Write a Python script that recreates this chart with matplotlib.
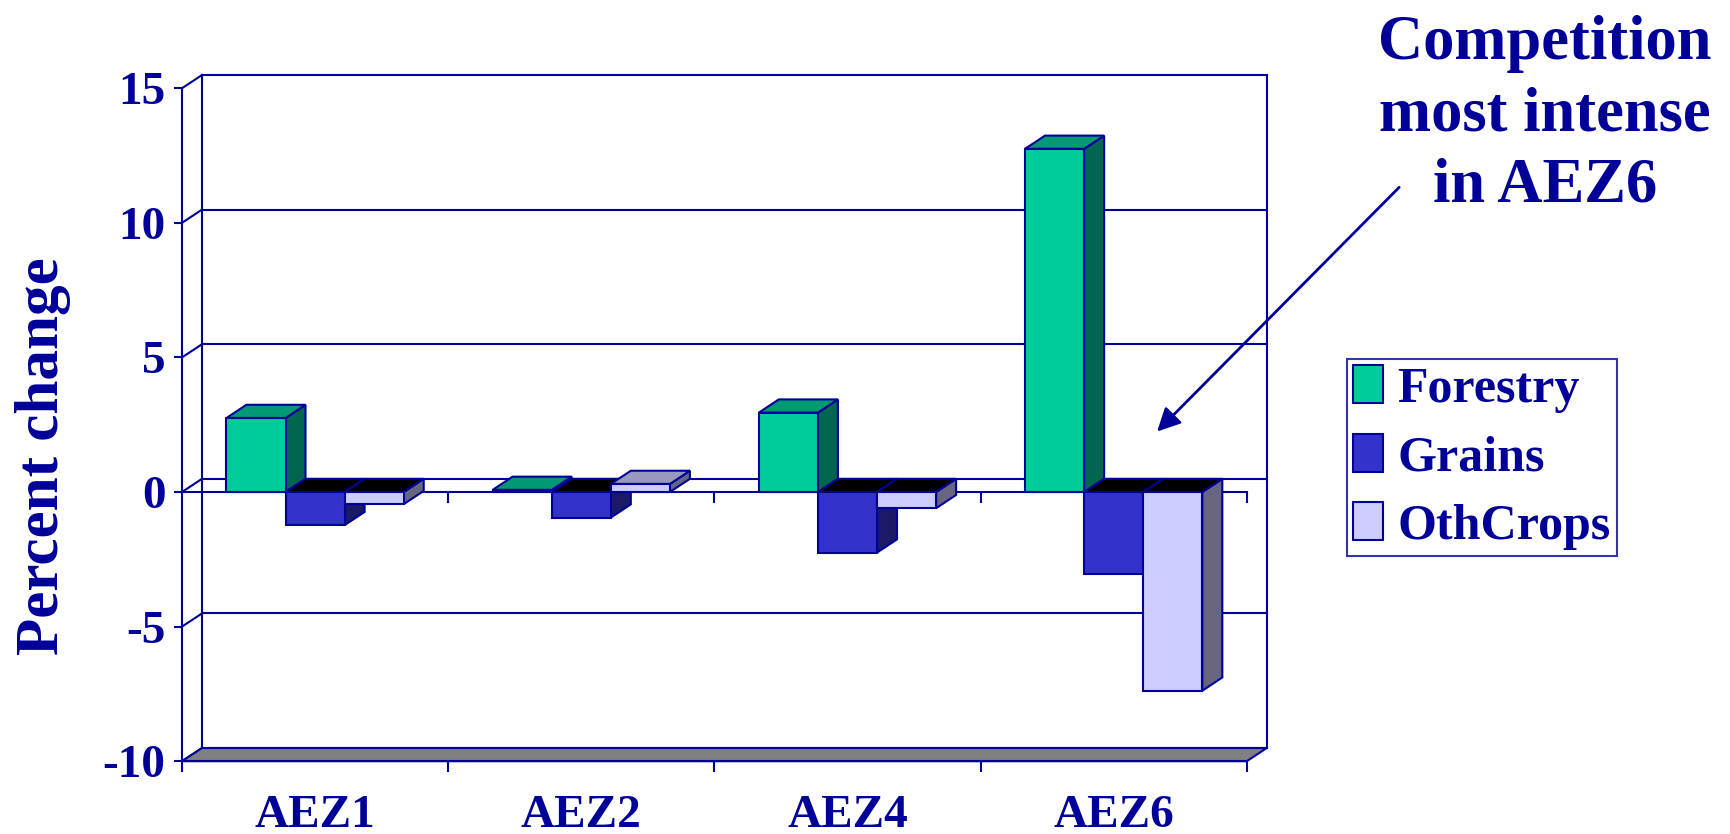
import matplotlib.pyplot as plt
from matplotlib.patches import Polygon, Patch

# data
regions = ['AEZ1', 'AEZ2', 'AEZ4', 'AEZ6']
series = ['Forestry', 'Grains', 'OthCrops']
forestry = [2.75, 0.08, 2.95, 12.75]
grains = [-1.23, -0.95, -2.25, -3.03]
othcrops = [-0.45, 0.3, -0.6, -7.38]
yticks = [-10, -5, 0, 5, 10, 15]

navy = '#000099'
front_cols = ['#00CC99', '#3333CC', '#CCCCFF']
top_cols = ['#009973', '#000000', '#9999BF']
side_cols = ['#006650', '#1A1A66', '#666680']

plt.rcParams['font.family'] = ['Liberation Serif', 'DejaVu Serif']
plt.rcParams['font.weight'] = 'bold'
plt.rcParams['axes.labelweight'] = 'bold'

fig = plt.figure(figsize=(17.3, 8.34), dpi=100)
ax = fig.add_axes([0.1052, 0.0873, 0.6155, 0.8069])
ax.set_xlim(0, len(regions))
ax.set_ylim(yticks[0], yticks[-1])
ax.patch.set_visible(False)

# fake 3d depth, in data units
dx, dy = 0.075, 0.49
bw = 0.222
gap = (1 - 3 * bw) / 2
lw = 1.5
n = len(regions)
ymin, ymax = yticks[0], yticks[-1]

# back wall and grid
for v in yticks:
    ax.plot([dx, n + dx], [v + dy, v + dy], color=navy, lw=lw, zorder=1, clip_on=False)
    ax.plot([0, dx], [v, v + dy], color=navy, lw=lw, zorder=1, clip_on=False)
ax.plot([dx, dx], [ymin + dy, ymax + dy], color=navy, lw=lw, zorder=1, clip_on=False)
ax.plot([n + dx, n + dx], [ymin + dy, ymax + dy], color=navy, lw=lw, zorder=1, clip_on=False)

# floor
floor = Polygon([(0, ymin), (n, ymin), (n + dx, ymin + dy), (dx, ymin + dy)],
                closed=True, facecolor='#808080', edgecolor=navy, lw=lw, zorder=2, clip_on=False)
ax.add_patch(floor)

# zero line with category ticks
ax.plot([0, n], [0, 0], color=navy, lw=lw, zorder=2, clip_on=False)
ax.vlines(range(1, n + 1), -0.42, 0, color=navy, lw=lw, zorder=2, clip_on=False)


def bar3d(x0, v, k):
    x1 = x0 + bw
    lo, hi = min(0, v), max(0, v)
    side = Polygon([(x1, lo), (x1 + dx, lo + dy), (x1 + dx, hi + dy), (x1, hi)],
                   closed=True, facecolor=side_cols[k], edgecolor=navy, lw=lw, zorder=3, clip_on=False)
    tcol = top_cols[k] if v > 0 else '#000000'
    top = Polygon([(x0, hi), (x1, hi), (x1 + dx, hi + dy), (x0 + dx, hi + dy)],
                  closed=True, facecolor=tcol, edgecolor=navy, lw=lw, zorder=3, clip_on=False)
    ax.add_patch(side)
    ax.add_patch(top)
    ax.bar(x0, v, width=bw, align='edge', color=front_cols[k], edgecolor=navy,
           lw=lw, zorder=3, clip_on=False)


values = [forestry, grains, othcrops]
for i in range(n):
    for k in range(3):
        bar3d(i + gap + k * bw, values[k][i], k)

# axes / ticks
for s in ['top', 'right']:
    ax.spines[s].set_visible(False)
for s in ['left', 'bottom']:
    ax.spines[s].set_color(navy)
    ax.spines[s].set_linewidth(lw)
    ax.spines[s].set_zorder(2)
ax.set_yticks(yticks)
ax.set_yticklabels([str(v) for v in yticks])
ax.tick_params(axis='y', colors=navy, labelsize=34, length=6, width=lw, pad=6)
ax.set_xticks(range(n + 1))
ax.set_xticklabels([''] * (n + 1))
ax.set_xticks([i + 0.5 for i in range(n)], minor=True)
ax.set_xticklabels(regions, minor=True)
ax.tick_params(axis='x', which='major', colors=navy, length=8, width=lw, direction='out')
ax.tick_params(axis='x', which='minor', colors=navy, length=0, labelsize=34, pad=24)
ax.set_ylabel('Percent change', fontsize=44, color=navy)
ax.yaxis.set_label_coords(-0.104, 0.454)

# legend
handles = [Patch(facecolor=c, edgecolor=navy, lw=1.5) for c in front_cols]
leg = fig.legend(handles, series, loc='center', bbox_to_anchor=(0.8565, 0.4515),
                 fontsize=36, frameon=True, fancybox=False, handlelength=0.6,
                 handleheight=0.8, handletextpad=0.3, labelspacing=0.42, borderpad=0.12)
leg.get_frame().set_edgecolor(navy)
leg.get_frame().set_linewidth(lw)
for t in leg.get_texts():
    t.set_color(navy)

# annotation
fig.text(0.8929, 0.862, 'Competition\nmost intense\nin AEZ6', fontsize=45, color=navy,
         ha='center', va='center', multialignment='center', linespacing=1.3)
fig.add_artist(plt.Annotation('', xy=(0.6677, 0.4802), xytext=(0.8099, 0.7778),
                              xycoords='figure fraction', textcoords='figure fraction',
                              arrowprops=dict(arrowstyle='-|>', color=navy, lw=2, mutation_scale=35)))

fig.savefig('out.png', dpi=100)
